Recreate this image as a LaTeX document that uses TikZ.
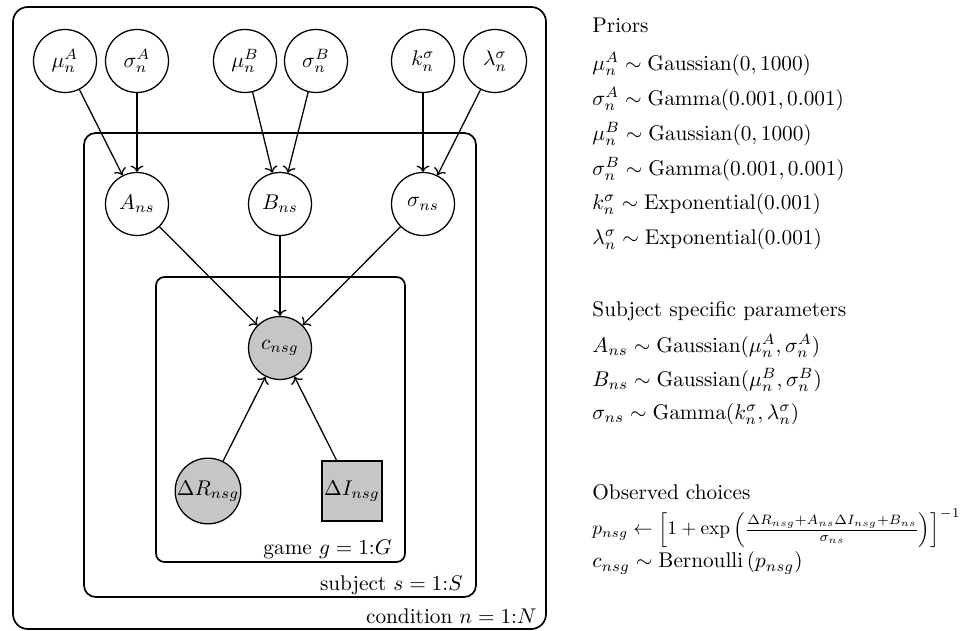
\documentclass[tikz,border=0pt]{standalone}
\usetikzlibrary{arrows.meta,positioning}
\begin{document}
\begin{tikzpicture}[
  x=0.47pt, y=-0.47pt,
  latent/.style={circle, draw, semithick, minimum size=29.6pt, inner sep=0pt},
  obs/.style={latent, fill=gray!45},
  obsbox/.style={rectangle, draw, semithick, fill=gray!45, minimum size=28.2pt, inner sep=0pt},
  edge/.style={->, semithick},
  plate/.style={draw, line width=0.8pt},
  platelbl/.style={anchor=base east, inner sep=0pt},
  txt/.style={anchor=west, inner sep=0pt},
]
  \useasboundingbox (0,0) rectangle (974,631);

  % ---------------- plates
  \draw[plate, rounded corners=7pt] (13,7) rectangle (546,629);
  \draw[plate, rounded corners=5.5pt] (84,133) rectangle (476,597);
  \draw[plate, rounded corners=4pt] (156,277) rectangle (405,562);
  \node[platelbl] (lgame) at (392,554) {game $g=1{:}G$};
  \node[platelbl] (lsubj) at (463,590) {subject $s=1{:}S$};
  \node[platelbl] (lcond) at (537,623) {condition $n=1{:}N$};

  % ---------------- hyperparameters
  \node[latent] (muA) at (65,61) {$\mu_n^A$};
  \node[latent] (sigA) at (137,61) {$\sigma_n^A$};
  \node[latent] (muB) at (245,61) {$\mu_n^B$};
  \node[latent] (sigB) at (316,61) {$\sigma_n^B$};
  \node[latent] (ks) at (423,61) {$k_n^\sigma$};
  \node[latent] (ls) at (495,61) {$\lambda_n^\sigma$};

  % ---------------- subject level
  \node[latent] (A) at (137,204) {$A_{ns}$};
  \node[latent] (B) at (280,204) {$B_{ns}$};
  \node[latent] (S) at (423,204) {$\sigma_{ns}$};

  % ---------------- game level
  \node[obs] (c) at (280,348) {$c_{nsg}$};
  \node[obs] (dR) at (208,491) {$\Delta R_{nsg}$};
  \node[obsbox] (dI) at (352,491) {$\Delta I_{nsg}$};

  \foreach \a/\b in {muA/A, sigA/A, muB/B, sigB/B, ks/S, ls/S, A/c, B/c, S/c, dR/c, dI/c}
    \draw[edge] (\a) -- (\b);

  % ---------------- model equations
  \node[txt] (hpri) at (592,25) {Priors};
  \node[txt] (p1) at (592,64) {$\mu_n^A \sim \mathrm{Gaussian}(0,1000)$};
  \node[txt] (p2) at (592,99) {$\sigma_n^A \sim \mathrm{Gamma}(0.001,0.001)$};
  \node[txt] (p3) at (592,134) {$\mu_n^B \sim \mathrm{Gaussian}(0,1000)$};
  \node[txt] (p4) at (592,169) {$\sigma_n^B \sim \mathrm{Gamma}(0.001,0.001)$};
  \node[txt] (p5) at (592,204) {$k_n^\sigma \sim \mathrm{Exponential}(0.001)$};
  \node[txt] (p6) at (592,239) {$\lambda_n^\sigma \sim \mathrm{Exponential}(0.001)$};

  \node[txt] (hsub) at (592,311) {Subject specific parameters};
  \node[txt] (s1) at (592,346) {$A_{ns} \sim \mathrm{Gaussian}(\mu_n^A,\sigma_n^A)$};
  \node[txt] (s2) at (592,380) {$B_{ns} \sim \mathrm{Gaussian}(\mu_n^B,\sigma_n^B)$};
  \node[txt] (s3) at (592,414) {$\sigma_{ns} \sim \mathrm{Gamma}(k_n^\sigma,\lambda_n^\sigma)$};

  \node[txt] (hobs) at (592,492) {Observed choices};
  \node[txt] (o1) at (592,528) {\scalebox{0.91}{$p_{nsg} \leftarrow \Big[1+\exp\Big(\frac{\Delta R_{nsg}+A_{ns}\Delta I_{nsg}+B_{ns}}{\sigma_{ns}}\Big)\Big]^{-1}$}};
  \node[txt] (o2) at (592,563) {$c_{nsg} \sim \mathrm{Bernoulli}\left(p_{nsg}\right)$};
\end{tikzpicture}
\end{document}
